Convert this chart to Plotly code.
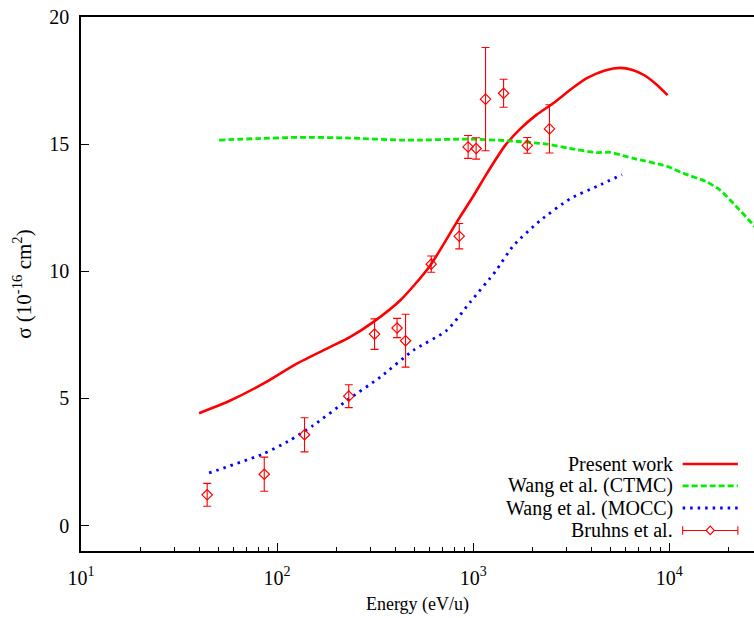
import plotly.graph_objects as go

# Present work
pw_x = [40, 57, 85, 126, 186, 235, 309, 425, 600, 835, 1000, 1175, 1456, 1738, 2100, 2570, 3200, 3800, 4700, 5620, 6500, 7500, 8600, 9800]
pw_y = [4.42, 4.9, 5.58, 6.37, 7.02, 7.41, 8.0, 8.86, 10.2, 12.0, 12.95, 13.85, 14.95, 15.6, 16.15, 16.62, 17.2, 17.6, 17.9, 18.0, 17.92, 17.7, 17.35, 16.93]

# Wang et al. (CTMC)
ctmc_x = [50.6, 80, 131, 235, 425, 537, 930, 1540, 2380, 3100, 4270, 5000, 5800, 6550, 9720, 11830, 15500, 18170, 21280, 26900, 30000]
ctmc_y = [15.16, 15.22, 15.27, 15.24, 15.16, 15.16, 15.2, 15.13, 15.0, 14.83, 14.67, 14.68, 14.55, 14.44, 14.13, 13.85, 13.52, 13.19, 12.66, 11.81, 11.3]

# Wang et al. (MOCC)
mocc_x = [45, 85, 116, 153, 227, 336, 495, 734, 966, 1300, 1600, 2200, 3130, 4300, 5740]
mocc_y = [2.07, 2.82, 3.35, 3.94, 4.92, 5.84, 6.89, 7.68, 8.79, 10.0, 11.0, 12.0, 12.86, 13.35, 13.8]

# Bruhns et al.
br_x = [44, 86, 138, 232, 314, 409, 452, 611, 849, 942, 1035, 1156, 1429, 1888, 2449]
br_y = [1.21, 2.02, 3.57, 5.09, 7.53, 7.77, 7.27, 10.28, 11.38, 14.89, 14.83, 16.77, 17.0, 14.95, 15.6]
br_err = [0.45, 0.67, 0.67, 0.45, 0.6, 0.38, 1.04, 0.32, 0.5, 0.45, 0.42, 2.03, 0.55, 0.31, 0.95]

x_tickvals = [10, 100, 1000, 10000]
x_ticktext = ["10<sup>1</sup>", "10<sup>2</sup>", "10<sup>3</sup>", "10<sup>4</sup>"]
x_minor = [m * 10 ** e for e in range(1, 5) for m in range(2, 10)]
y_tickvals = [0, 5, 10, 15, 20]

legend_names = ["Present work", "Wang et al. (CTMC)", "Wang et al. (MOCC)", "Bruhns et al."]

FONT = "Liberation Serif, Times New Roman, Times, serif"

fig = go.Figure()
fig.add_trace(go.Scatter(x=pw_x, y=pw_y, mode="lines", line=dict(color="#ff0000", width=2.6, shape="spline", smoothing=0.7),
                         name=legend_names[0], showlegend=False))
fig.add_trace(go.Scatter(x=ctmc_x, y=ctmc_y, mode="lines", line=dict(color="#00ee00", width=2.8, dash="6px,3px", shape="spline", smoothing=0.6),
                         name=legend_names[1], showlegend=False))
fig.add_trace(go.Scatter(x=mocc_x, y=mocc_y, mode="lines", line=dict(color="#0000ff", width=2.8, dash="2.5px,5px", shape="spline", smoothing=0.6),
                         name=legend_names[2], showlegend=False))
fig.add_trace(go.Scatter(x=br_x, y=br_y, mode="markers",
                         marker=dict(symbol="diamond-open", size=8, color="#ff0000", line=dict(width=1.2)),
                         error_y=dict(type="data", array=br_err, visible=True, color="#ff0000", thickness=1.1, width=4),
                         name=legend_names[3], showlegend=False))

# manual legend (text right-aligned, sample on the right)
ly = [0.163, 0.122, 0.0805, 0.0385]
x0, x1 = 0.894, 0.976
for name, yy in zip(legend_names, ly):
    fig.add_annotation(x=0.882, y=yy, xref="paper", yref="paper", text=name, showarrow=False,
                       xanchor="right", yanchor="middle", font=dict(family=FONT, size=20, color="black"))
fig.add_shape(type="line", xref="paper", yref="paper", x0=x0, x1=x1, y0=ly[0], y1=ly[0], line=dict(color="#ff0000", width=2.6))
fig.add_shape(type="line", xref="paper", yref="paper", x0=x0, x1=x1, y0=ly[1], y1=ly[1], line=dict(color="#00ee00", width=2.8, dash="6px,3px"))
fig.add_shape(type="line", xref="paper", yref="paper", x0=x0, x1=x1, y0=ly[2], y1=ly[2], line=dict(color="#0000ff", width=2.8, dash="2.5px,5px"))
fig.add_shape(type="line", xref="paper", yref="paper", x0=x0, x1=x1, y0=ly[3], y1=ly[3], line=dict(color="#ff0000", width=1.1))
for xx in (x0, x1):
    fig.add_shape(type="line", xref="paper", yref="paper", x0=xx, x1=xx, y0=ly[3] - 0.008, y1=ly[3] + 0.008, line=dict(color="#ff0000", width=1.1))
xm = (x0 + x1) / 2
fig.add_shape(type="path", xref="paper", yref="paper",
              path=f"M {xm-0.006} {ly[3]} L {xm} {ly[3]+0.008} L {xm+0.006} {ly[3]} L {xm} {ly[3]-0.008} Z",
              line=dict(color="#ff0000", width=1.2), fillcolor="white")

fig.update_layout(
    width=754, height=618,
    margin=dict(l=81, r=0, t=17, b=67),
    paper_bgcolor="white", plot_bgcolor="white",
    font=dict(family=FONT, size=19, color="black"),
    showlegend=False,
)
fig.update_xaxes(type="log", range=[1, 4.432], tickvals=x_tickvals, ticktext=x_ticktext,
                 ticks="inside", ticklen=8, tickcolor="black", tickwidth=1,
                 minor=dict(tickvals=x_minor, ticks="inside", ticklen=4, tickcolor="black", showgrid=False),
                 showline=True, linecolor="black", linewidth=1.5, mirror=True, showgrid=False, zeroline=False,
                 tickfont=dict(family=FONT, size=20), ticklabelstandoff=8,
                 title=dict(text="Energy (eV/u)", font=dict(family=FONT, size=18), standoff=10))
fig.update_yaxes(range=[-1, 20], tickvals=y_tickvals, ticks="inside", ticklen=8, tickcolor="black",
                 showline=True, linecolor="black", linewidth=1.5, mirror=False, showgrid=False, zeroline=False,
                 tickfont=dict(family=FONT, size=20), ticklabelstandoff=6,
                 title=dict(text="σ (10<sup>-16</sup> cm<sup>2</sup>)", font=dict(family=FONT, size=21), standoff=12))

fig.write_html("out.html")
